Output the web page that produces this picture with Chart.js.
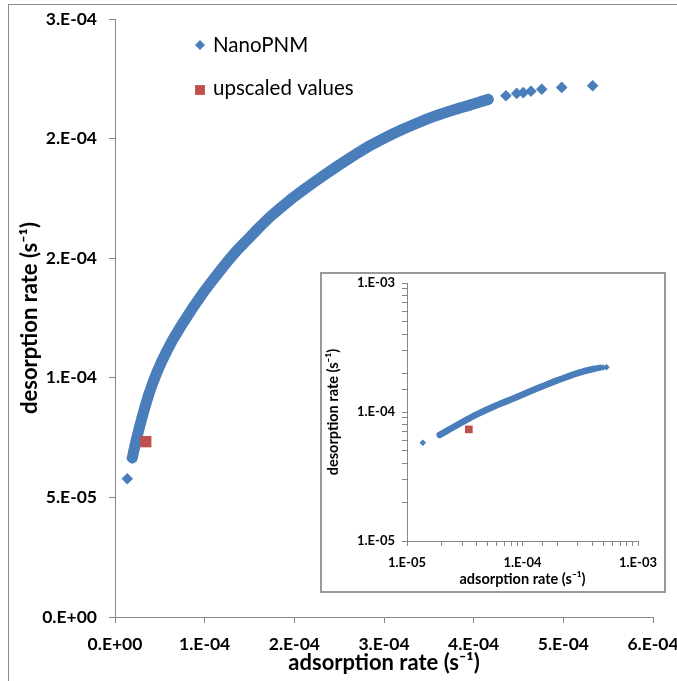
<!DOCTYPE html>
<html>
<head>
<meta charset="utf-8">
<script src="https://cdn.jsdelivr.net/npm/chart.js@4.4.0/dist/chart.umd.min.js"></script>
<style>
  html, body { margin: 0; padding: 0; background: #fff; overflow: hidden; }
  #frame { position: absolute; left: 8px; top: 4px; width: 720px; height: 720px; border: 1px solid #8c8c8c; }
  #main { position: absolute; left: 0; top: 0; }
  #insetBox { position: absolute; left: 320px; top: 272px; width: 346px; height: 321px; box-sizing: border-box; border: 2px solid #9a9a9a; background: #fff; }
  #inset { position: absolute; left: 0; top: 0; }
</style>
</head>
<body>
<div id="frame"></div>
<canvas id="main" width="677" height="681"></canvas>
<div id="insetBox"><canvas id="inset" width="342" height="317"></canvas></div>
<script>
// NanoPNM rates, the continuous run of points
const nanoX = [1.92e-5, 2.12e-5, 2.40e-5, 2.71e-5, 3.04e-5, 3.39e-5, 3.77e-5, 4.20e-5, 4.68e-5, 5.23e-5,
  5.84e-5, 6.50e-5, 7.24e-5, 8.03e-5, 8.84e-5, 9.71e-5, 1.063e-4, 1.158e-4, 1.258e-4, 1.363e-4,
  1.483e-4, 1.606e-4, 1.729e-4, 1.851e-4, 1.974e-4, 2.100e-4, 2.225e-4, 2.347e-4, 2.472e-4,
  2.596e-4, 2.721e-4, 2.844e-4, 2.966e-4, 3.089e-4, 3.215e-4, 3.340e-4, 3.463e-4, 3.588e-4, 3.711e-4,
  3.836e-4, 3.959e-4, 4.059e-4, 4.163e-4];
const nanoY = [6.65e-5, 6.98e-5, 7.45e-5, 7.91e-5, 8.37e-5, 8.84e-5, 9.31e-5, 9.77e-5, 1.023e-4, 1.070e-4,
  1.116e-4, 1.163e-4, 1.209e-4, 1.255e-4, 1.302e-4, 1.349e-4, 1.395e-4, 1.441e-4, 1.488e-4, 1.534e-4,
  1.580e-4, 1.628e-4, 1.673e-4, 1.712e-4, 1.750e-4, 1.785e-4, 1.819e-4, 1.851e-4, 1.883e-4,
  1.913e-4, 1.943e-4, 1.971e-4, 1.995e-4, 2.018e-4, 2.040e-4, 2.060e-4, 2.079e-4, 2.097e-4, 2.112e-4,
  2.127e-4, 2.140e-4, 2.152e-4, 2.164e-4];

// NanoPNM points standing apart: the lowest one and the sparse tail
const nanoLooseX = [1.37e-5, 4.360e-4, 4.480e-4, 4.553e-4, 4.639e-4, 4.759e-4, 4.982e-4, 5.327e-4];
const nanoLooseY = [5.78e-5, 2.179e-4, 2.189e-4, 2.192e-4, 2.198e-4, 2.206e-4, 2.214e-4, 2.221e-4];

const upscaledX = [3.43e-5];
const upscaledY = [7.33e-5];

const mainXTicks = [0, 1e-4, 2e-4, 3e-4, 4e-4, 5e-4, 6e-4];
const mainYTicks = [0, 5e-5, 1e-4, 1.5e-4, 2e-4, 2.5e-4];

const blue = '#4a7ebb';
const red = '#c0504d';
const axisGray = '#868686';

Chart.defaults.font.family = 'Lato, "Open Sans", sans-serif';
Chart.defaults.color = '#000';

const toPoints = (xs, ys) => xs.map((x, i) => ({ x: x, y: ys[i] }));

// Excel style "0.E+00" labels
function sci(v) {
  if (v === 0) return '0.E+00';
  let e = Math.floor(Math.log10(Math.abs(v)) + 1e-9);
  let m = Math.round(v / Math.pow(10, e) + 1e-9);
  if (m === 10) { m = 1; e += 1; }
  return m + '.E' + (e < 0 ? '-' : '+') + String(Math.abs(e)).padStart(2, '0');
}

function isDecade(v) {
  const l = Math.log10(v);
  return Math.abs(l - Math.round(l)) < 1e-6;
}

// fixed axis boxes so the plot area sits where it should
function fixWidth(w) {
  return s => { s.width = w; s.paddingTop = 0; s.paddingBottom = 0; };
}
function fixHeight(h) {
  return s => { s.height = h; s.paddingLeft = 0; s.paddingRight = 0; };
}

function useTicks(list) {
  return s => { s.ticks = list.map(v => ({ value: v })); };
}

function axis(opts) {
  return Object.assign({
    border: { display: true, color: axisGray, width: 1 },
    grid: { drawOnChartArea: false, color: axisGray, tickLength: opts.tickLength || 6 },
  }, opts.extra);
}

// legend drawn inside the plot, upper left
const insideLegend = {
  id: 'insideLegend',
  afterDraw(chart, args, opts) {
    if (!opts.items) return;
    const ctx = chart.ctx;
    ctx.save();
    ctx.font = opts.font;
    ctx.textBaseline = 'alphabetic';
    opts.items.forEach(it => {
      const ds = chart.data.datasets[it.dataset];
      ctx.fillStyle = ds.pointBackgroundColor || ds.backgroundColor;
      Chart.helpers.drawPoint(ctx, { pointStyle: ds.pointStyle, radius: it.radius, borderWidth: 0, rotation: 0 }, it.x, it.y);
      ctx.fillStyle = '#000';
      ctx.fillText(ds.label, it.textX, it.baseline);
    });
    ctx.restore();
  }
};

function datasets(sizes) {
  return [
    {
      label: 'upscaled values',
      data: toPoints(upscaledX, upscaledY),
      pointStyle: 'rect',
      pointRadius: sizes.square,
      backgroundColor: red,
      borderWidth: 0
    },
    {
      label: 'NanoPNM',
      data: toPoints(nanoX, nanoY),
      showLine: true,
      borderColor: blue,
      borderWidth: sizes.band,
      borderCapStyle: 'round',
      borderJoinStyle: 'round',
      pointStyle: 'rectRot',
      pointRadius: sizes.diamond,
      pointBackgroundColor: blue,
      pointBorderWidth: 0
    },
    {
      label: 'NanoPNM',
      data: toPoints(nanoLooseX, nanoLooseY),
      pointStyle: 'rectRot',
      pointRadius: sizes.diamond,
      backgroundColor: blue,
      borderWidth: 0
    }
  ];
}

const mainConfig = {
  type: 'scatter',
  data: { datasets: datasets({ square: 8, band: 11, diamond: 5.8 }) },
  options: {
    responsive: false,
    animation: false,
    events: [],
    layout: { padding: { left: 0, top: 19, right: 24, bottom: 0 } },
    plugins: {
      legend: { display: false },
      tooltip: { enabled: false },
      insideLegend: {
        font: '20.5px Lato, "Open Sans", sans-serif',
        items: [
          { dataset: 1, x: 200, y: 45, radius: 5, textX: 213, baseline: 52 },
          { dataset: 0, x: 200, y: 90, radius: 7, textX: 213, baseline: 95 }
        ]
      }
    },
    scales: {
      x: axis({ extra: {
        type: 'linear', min: 0, max: 6e-4,
        afterBuildTicks: useTicks(mainXTicks),
        afterFit: fixHeight(64),
        ticks: { callback: v => sci(v), font: { size: 17.5, weight: 'bold' }, padding: 11, autoSkip: false, maxRotation: 0 },
        title: { display: true, text: 'adsorption rate (s⁻¹)', font: { size: 22, weight: 'bold' }, padding: { top: 0, bottom: 5 } }
      } }),
      y: axis({ extra: {
        type: 'linear', min: 0, max: 2.5e-4,
        afterBuildTicks: useTicks(mainYTicks),
        afterFit: fixWidth(115),
        ticks: { callback: v => sci(v), font: { size: 17.5, weight: 'bold' }, padding: 12, autoSkip: false },
        title: { display: true, text: 'desorption rate (s⁻¹)', font: { size: 22, weight: 'bold' }, padding: { top: 17, bottom: 0 } }
      } })
    }
  },
  plugins: [insideLegend]
};

const insetConfig = {
  type: 'scatter',
  data: { datasets: datasets({ square: 5.4, band: 6.5, diamond: 3.3 }) },
  options: {
    responsive: false,
    animation: false,
    events: [],
    layout: { padding: { left: 0, top: 9, right: 26, bottom: 0 } },
    plugins: { legend: { display: false }, tooltip: { enabled: false } },
    scales: {
      x: axis({ tickLength: 5, extra: {
        type: 'logarithmic', min: 1e-5, max: 1e-3,
        afterFit: fixHeight(50),
        ticks: { callback: v => (isDecade(v) ? sci(v) : ''), font: { size: 13, weight: 'bold' }, padding: 9, autoSkip: false, maxRotation: 0 },
        title: { display: true, text: 'adsorption rate (s⁻¹)', font: { size: 14.5, weight: 'bold' }, padding: { top: 0, bottom: 3 } }
      } }),
      y: axis({ tickLength: 5, extra: {
        type: 'logarithmic', min: 1e-5, max: 1e-3,
        afterFit: fixWidth(85),
        ticks: { callback: v => (isDecade(v) ? sci(v) : ''), font: { size: 13, weight: 'bold' }, padding: 7, autoSkip: false },
        title: { display: true, text: 'desorption rate (s⁻¹)', font: { size: 14.5, weight: 'bold' }, padding: { top: 3, bottom: 0 } }
      } })
    }
  }
};

new Chart(document.getElementById('main'), mainConfig);
new Chart(document.getElementById('inset'), insetConfig);
</script>
</body>
</html>
